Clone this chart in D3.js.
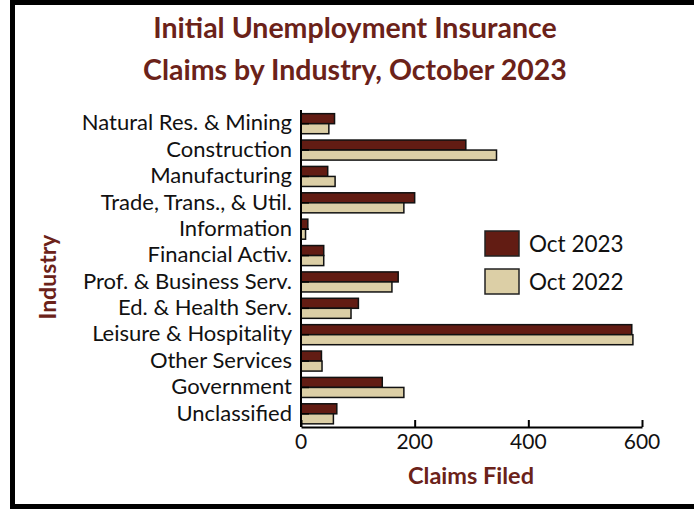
<!DOCTYPE html>
<html>
<head>
<meta charset="utf-8">
<script src="https://cdn.jsdelivr.net/npm/d3@7"></script>
<style>
  html, body { margin: 0; padding: 0; background: #fff; }
  svg { display: block; }
  text { font-family: Lato, "Open Sans", sans-serif; }
</style>
</head>
<body>
<svg id="chart" width="694" height="509"></svg>
<script>
// Industries, top to bottom
const industries = [
  "Natural Res. & Mining",
  "Construction",
  "Manufacturing",
  "Trade, Trans., & Util.",
  "Information",
  "Financial Activ.",
  "Prof. & Business Serv.",
  "Ed. & Health Serv.",
  "Leisure & Hospitality",
  "Other Services",
  "Government",
  "Unclassified"
];

// Initial claims filed in each month
const oct2023 = [59, 290, 47, 200, 12, 40, 171, 101, 582, 36, 143, 63];
const oct2022 = [49, 344, 60, 181, 8, 40, 160, 88, 584, 37, 181, 57];

const seriesNames = ["Oct 2023", "Oct 2022"];
const seriesColors = ["#621c13", "#dccfa6"];
const xTicks = [0, 200, 400, 600];

const titleLines = ["Initial Unemployment Insurance", "Claims by Industry, October 2023"];
const xTitle = "Claims Filed";
const yTitle = "Industry";

const maroon = "#6b2219";

const svg = d3.select("#chart");

// Outer frame
svg.append("rect")
  .attr("x", 12.5).attr("y", 2.5)
  .attr("width", 700).attr("height", 504)
  .attr("fill", "#fff")
  .attr("stroke", "#000")
  .attr("stroke-width", 5);

// Scales
const x = d3.scaleLinear().domain([0, 600]).range([301, 642]);
const y = d3.scaleBand().domain(industries).range([110.5, 427])
  .paddingInner(0.24).paddingOuter(0.12);
const sub = d3.scaleBand().domain(seriesNames).range([0, y.bandwidth()]);

const rows = industries.map((name, i) => ({ name, values: [oct2023[i], oct2022[i]] }));

// Bars
const groups = svg.append("g").selectAll("g")
  .data(rows).join("g")
  .attr("transform", d => `translate(0,${y(d.name)})`);

groups.selectAll("rect")
  .data(d => d.values.map((v, k) => ({ v, k })))
  .join("rect")
  .attr("x", x(0))
  .attr("y", d => sub(seriesNames[d.k]))
  .attr("width", d => x(d.v) - x(0))
  .attr("height", sub.bandwidth())
  .attr("fill", d => seriesColors[d.k])
  .attr("stroke", "#111")
  .attr("stroke-width", 1.5);

// Category axis with short inward ticks
const yAxis = svg.append("g")
  .attr("transform", `translate(${x(0)},0)`)
  .call(d3.axisRight(y).tickSize(8).tickSizeOuter(0).tickFormat(""));
yAxis.select(".domain").attr("stroke", "#000").attr("stroke-width", 2)
  .attr("d", `M0,110V427`);
yAxis.selectAll(".tick line").attr("stroke", "#000").attr("stroke-width", 1.5);

// Category labels
svg.append("g").selectAll("text")
  .data(industries).join("text")
  .attr("x", 292)
  .attr("y", d => y(d) + y.bandwidth() / 2 - 1)
  .attr("dy", "0.35em")
  .attr("text-anchor", "end")
  .attr("font-size", 22)
  .attr("fill", "#111")
  .text(d => d);

// Value axis with inward ticks
const xAxis = svg.append("g")
  .attr("transform", "translate(0,427)")
  .call(d3.axisTop(x).tickValues(xTicks).tickSize(7).tickSizeOuter(0).tickFormat(""));
xAxis.select(".domain").attr("stroke", "#000").attr("stroke-width", 2);
xAxis.selectAll(".tick line").attr("stroke", "#000").attr("stroke-width", 2);

svg.append("g").selectAll("text")
  .data(xTicks).join("text")
  .attr("x", d => x(d))
  .attr("y", 449)
  .attr("text-anchor", "middle")
  .attr("font-size", 21)
  .attr("fill", "#111")
  .text(d => d);

// Titles
svg.append("g").selectAll("text")
  .data(titleLines).join("text")
  .attr("x", 355)
  .attr("y", (d, i) => 38 + i * 42)
  .attr("text-anchor", "middle")
  .attr("font-size", 28.5)
  .attr("font-weight", "bold")
  .attr("fill", maroon)
  .text(d => d);

svg.append("text")
  .attr("x", 471).attr("y", 484)
  .attr("text-anchor", "middle")
  .attr("font-size", 23.5)
  .attr("font-weight", "bold")
  .attr("fill", maroon)
  .text(xTitle);

svg.append("text")
  .attr("transform", "translate(56,277) rotate(-90)")
  .attr("text-anchor", "middle")
  .attr("font-size", 23)
  .attr("font-weight", "bold")
  .attr("fill", maroon)
  .text(yTitle);

// Legend
const legend = svg.append("g").selectAll("g")
  .data(seriesNames).join("g")
  .attr("transform", (d, i) => `translate(485,${231 + i * 38})`);
legend.append("rect")
  .attr("width", 34).attr("height", 25)
  .attr("fill", (d, i) => seriesColors[i])
  .attr("stroke", "#222").attr("stroke-width", 1.5);
legend.append("text")
  .attr("x", 44).attr("y", 13.5).attr("dy", "0.35em")
  .attr("font-size", 22.5)
  .attr("fill", "#111")
  .text(d => d);
</script>
</body>
</html>
